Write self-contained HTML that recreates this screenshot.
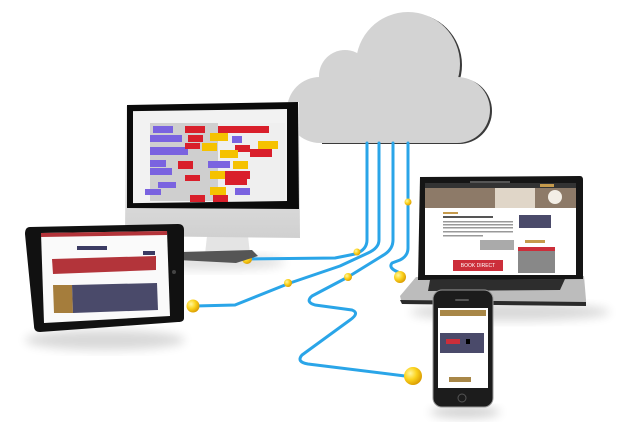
<!DOCTYPE html>
<html><head><meta charset="utf-8"><style>
html,body{margin:0;padding:0;background:#fff;width:619px;height:433px;overflow:hidden}
svg{display:block;font-family:"Liberation Sans",sans-serif}
</style></head><body>
<svg width="619" height="433" viewBox="0 0 619 433" xmlns="http://www.w3.org/2000/svg">
<defs>
<radialGradient id="ball" cx="0.35" cy="0.35" r="0.7"><stop offset="0" stop-color="#fff7a0"/><stop offset="0.5" stop-color="#fbd31e"/><stop offset="1" stop-color="#d99a00"/></radialGradient>
<linearGradient id="sil" x1="0" y1="0" x2="0" y2="1"><stop offset="0" stop-color="#f4f4f4"/><stop offset="1" stop-color="#d0d0d0"/></linearGradient>
<filter id="sh" x="-20%" y="-20%" width="140%" height="150%"><feGaussianBlur stdDeviation="5"/></filter>
</defs>

<!-- shadows -->
<ellipse cx="215" cy="262" rx="70" ry="8" fill="#000" opacity="0.12" filter="url(#sh)"/>
<ellipse cx="105" cy="340" rx="80" ry="10" fill="#000" opacity="0.15" filter="url(#sh)"/>
<ellipse cx="510" cy="312" rx="100" ry="9" fill="#000" opacity="0.15" filter="url(#sh)"/>
<ellipse cx="465" cy="412" rx="35" ry="6" fill="#000" opacity="0.18" filter="url(#sh)"/>

<!-- cloud -->
<g fill="#3a3a3a" transform="translate(2,1)">
<circle cx="408" cy="64" r="52"/><circle cx="457" cy="110" r="33"/><rect x="320" y="100" width="137" height="43"/>
</g>
<g fill="#d3d3d3">
<circle cx="408" cy="64" r="52"/>
<circle cx="345" cy="76" r="26"/>
<circle cx="320" cy="110" r="33"/>
<circle cx="457" cy="110" r="33"/>
<rect x="320" y="80" width="137" height="63"/>
</g>

<!-- cables -->
<g fill="none" stroke="#2aa5e8" stroke-width="3" stroke-linejoin="round" stroke-linecap="round">
<path d="M367 143 V240 Q367 250 355 254 L335 258 L247 259"/>
<path d="M379 143 V240 Q379 248 368 253 L340 266 L290 283 L235 305 L195 306"/>
<path d="M393 143 V240 Q393 250 382 256 L348 277 L312 296 Q305 302 315 305 L352 310 Q360 313 350 320 L302 355 Q296 362 308 364 L413 377"/>
<path d="M408 143 V248 Q408 256 400 260 L392 263 Q388 268 398 272 L401 277"/>
</g>
<g fill="url(#ball)">
<circle cx="357" cy="252" r="3.5"/><circle cx="288" cy="283" r="4"/><circle cx="348" cy="277" r="4"/>
<circle cx="408" cy="202" r="3.5"/><circle cx="247" cy="259" r="5"/><circle cx="193" cy="306" r="6.5"/>
<circle cx="400" cy="277" r="6"/><circle cx="413" cy="376" r="9"/>
</g>

<!-- monitor -->
<path d="M207 236 L248 236 L250 254 L205 254 Z" fill="#e4e4e4"/>
<path d="M182 252 L252 250 L258 256 L236 263 L178 260 Z" fill="#555"/>
<path d="M126 106 L299 102 L300 238 L125 236 Z" fill="url(#sil)"/>
<path d="M127 105 L298 102 L299 209 L127 208 Z" fill="#0b0b0b"/>
<rect x="133" y="113" width="154" height="92" fill="#f2f2f2" transform="skewY(-0.8)"/>
<g transform="translate(150,123)">
<rect x="0" y="0" width="135" height="78" fill="#cfcfcf"/>
<rect x="68" y="0" width="67" height="78" fill="#efefef"/>
<g fill="#7a63e0"><rect x="3" y="3" width="20" height="7"/><rect x="0" y="12" width="32" height="7"/><rect x="0" y="24" width="38" height="8"/><rect x="0" y="37" width="16" height="7"/><rect x="0" y="45" width="22" height="7"/><rect x="8" y="59" width="18" height="6"/><rect x="-5" y="66" width="16" height="6"/><rect x="58" y="38" width="22" height="7"/><rect x="82" y="13" width="10" height="7"/><rect x="85" y="65" width="15" height="7"/></g>
<g fill="#d91f2b"><rect x="35" y="3" width="20" height="7"/><rect x="38" y="12" width="15" height="7"/><rect x="35" y="20" width="15" height="6"/><rect x="28" y="38" width="15" height="8"/><rect x="35" y="52" width="15" height="6"/><rect x="68" y="3" width="30" height="7"/><rect x="85" y="22" width="15" height="7"/><rect x="75" y="48" width="25" height="8"/><rect x="75" y="56" width="22" height="6"/><rect x="40" y="72" width="15" height="7"/><rect x="63" y="72" width="15" height="7"/><rect x="97" y="3" width="22" height="7"/><rect x="100" y="26" width="22" height="8"/></g>
<g fill="#f5c200"><rect x="60" y="10" width="18" height="8"/><rect x="52" y="20" width="15" height="8"/><rect x="70" y="27" width="18" height="8"/><rect x="83" y="38" width="15" height="8"/><rect x="60" y="48" width="15" height="8"/><rect x="60" y="64" width="16" height="8"/><rect x="108" y="18" width="20" height="8"/></g>
</g>

<!-- tablet -->
<path d="M30 227 L178 224 Q184 224 184 230 L184 318 Q184 322 178 322 L40 332 Q34 332 34 326 L25 234 Q25 227 30 227 Z" fill="#111"/>
<path d="M41 233 L167 231 L170 316 L44 323 Z" fill="#fafafa"/>
<path d="M41 233 L167 231 L167 235 L41 237 Z" fill="#b3343a"/>
<path d="M52 259 L156 256 L156 270 L53 274 Z" fill="#b3343a"/>
<rect x="77" y="246" width="30" height="4" fill="#3b3b63"/>
<rect x="143" y="251" width="12" height="4" fill="#3b3b63"/>
<path d="M53 285 L72 285 L73 313 L54 313 Z" fill="#a57d3c"/>
<path d="M72 285 L157 283 L158 310 L73 313 Z" fill="#4a4a6a"/>
<circle cx="174" cy="272" r="2" fill="#444"/>

<!-- laptop -->
<path d="M400 296 L416 277 L584 276 L586 300 L586 306 L402 304 Z" fill="#bcbcbc"/>
<path d="M400 300 L586 302 L586 306 L402 304 Z" fill="#2a2a2a"/>
<path d="M430 280 L565 279 L560 290 L428 291 Z" fill="#2d2d2d"/>
<path d="M420 177 L580 176 Q583 176 583 180 L583 279 L418 280 Z" fill="#151515"/>
<rect x="425" y="183" width="151" height="92" fill="#fff"/>
<rect x="425" y="183" width="151" height="5" fill="#333"/>
<rect x="425" y="188" width="151" height="20" fill="#8d7a68"/>
<rect x="495" y="188" width="40" height="20" fill="#e0d6c8"/>
<circle cx="555" cy="197" r="7" fill="#f3eee6"/>
<rect x="470" y="181" width="40" height="2" fill="#555"/>
<rect x="540" y="184" width="14" height="3" fill="#c59a4c"/>
<g fill="#999"><rect x="443" y="221" width="70" height="1.5"/><rect x="443" y="224" width="70" height="1.5"/><rect x="443" y="227" width="70" height="1.5"/><rect x="443" y="231" width="70" height="1.5"/><rect x="443" y="235" width="40" height="1.5"/></g>
<rect x="443" y="212" width="15" height="2" fill="#c59a4c"/>
<rect x="443" y="216" width="50" height="2" fill="#555"/>
<rect x="480" y="240" width="34" height="10" fill="#aaa"/>
<rect x="453" y="260" width="50" height="11" fill="#cc2e3a"/>
<text x="478" y="267" font-size="5" fill="#fff" text-anchor="middle">BOOK DIRECT</text>
<rect x="519" y="215" width="32" height="13" fill="#4a4a6a"/>
<rect x="518" y="247" width="37" height="26" fill="#888"/>
<rect x="518" y="247" width="37" height="4" fill="#cc2e3a"/>
<rect x="525" y="240" width="20" height="3" fill="#c59a4c"/>

<!-- phone -->
<rect x="433" y="290" width="60" height="117" rx="9" fill="#1c1c1c" stroke="#999" stroke-width="1"/>
<rect x="438" y="308" width="50" height="80" fill="#fff"/>
<rect x="440" y="310" width="46" height="6" fill="#a88747"/>
<rect x="440" y="333" width="44" height="20" fill="#4a4a6a"/>
<rect x="446" y="339" width="14" height="5" fill="#cc2e3a"/>
<rect x="466" y="339" width="4" height="5" fill="#000"/>
<rect x="449" y="377" width="22" height="5" fill="#a88747"/>
<rect x="455" y="299" width="14" height="2" rx="1" fill="#555"/>
<circle cx="462" cy="398" r="4" fill="none" stroke="#555" stroke-width="1"/>
</svg>
</body></html>
